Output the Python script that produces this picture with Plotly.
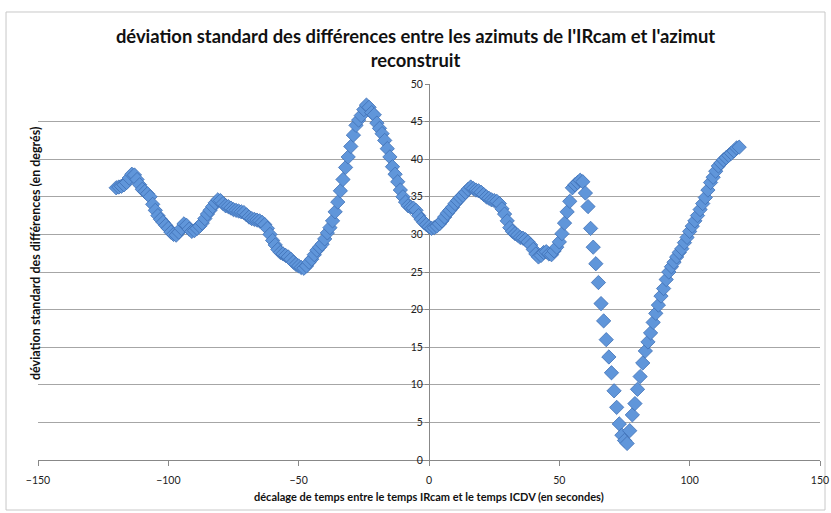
import plotly.graph_objects as go

# Time offset between IRcam and ICDV clocks (seconds), one sample per second
time_offsets = list(range(-120, 120))

# Standard deviation of the azimuth differences (degrees) for each offset
std_dev = [
    36.2, 36.3, 36.4, 36.6, 36.9, 37.5, 38.0, 37.9, 37.3, 36.6,
    36.0, 35.7, 35.4, 35.0, 34.0, 33.2, 32.5, 32.0, 31.6, 31.2,
    30.8, 30.3, 30.0, 29.9, 30.3, 30.8, 31.4, 31.2, 30.7, 30.4,
    30.5, 30.8, 31.1, 31.5, 32.1, 32.7, 33.2, 33.7, 34.2, 34.6,
    34.5, 34.1, 33.8, 33.7, 33.5, 33.3, 33.2, 33.1, 33.0, 32.9,
    32.6, 32.3, 32.1, 32.0, 31.9, 31.8, 31.6, 31.3, 30.8, 30.0,
    29.2, 28.6, 28.0, 27.6, 27.4, 27.2, 27.0, 26.7, 26.3, 26.0,
    25.8, 25.6, 25.5, 25.8, 26.3, 26.7, 27.3, 27.9, 28.3, 28.7,
    29.4, 30.2, 30.9, 31.8, 33.0, 34.3, 35.8, 37.3, 38.9, 40.3,
    41.7, 43.2, 44.5, 45.2, 45.8, 46.6, 47.2, 46.9, 46.2, 45.9,
    44.8, 44.1, 43.4, 42.5, 41.4, 40.3, 39.0, 38.0, 37.0, 35.9,
    35.0, 34.3, 33.8, 33.6, 33.5, 33.2, 32.5, 32.0, 31.6, 31.3,
    31.0, 30.8, 30.9, 31.1, 31.4, 31.8, 32.3, 32.8, 33.2, 33.6,
    34.1, 34.5, 34.9, 35.2, 35.6, 36.0, 36.3, 36.1, 35.9, 35.8,
    35.6, 35.3, 35.0, 34.8, 34.6, 34.5, 34.4, 34.1, 33.4, 32.7,
    31.8, 30.9, 30.4, 30.1, 29.9, 29.6, 29.5, 29.3, 29.0, 28.6,
    28.0, 27.4, 27.0, 27.2, 27.6, 27.7, 27.4, 27.3, 27.8, 28.3,
    29.0, 30.1, 31.5, 33.0, 34.4, 36.2, 36.6, 36.9, 37.2, 37.0,
    35.5, 33.7, 30.8, 28.3, 26.1, 23.6, 20.8, 18.5, 16.0, 13.7,
    11.6, 9.2, 7.0, 4.8, 3.3, 2.6, 2.2, 3.9, 6.0, 7.5,
    9.4, 11.1, 12.9, 14.5, 15.7, 16.9, 18.3, 19.5, 20.6, 21.8,
    22.8, 24.0, 25.0, 25.7, 26.3, 27.0, 27.6, 28.1, 28.9, 29.6,
    30.4, 31.1, 31.8, 32.5, 33.3, 34.1, 34.9, 35.9, 36.9, 37.6,
    38.4, 39.1, 39.5, 39.9, 40.2, 40.5, 40.8, 41.1, 41.5, 41.6,
]

x_ticks = [-150, -100, -50, 0, 50, 100, 150]
y_ticks = [0, 5, 10, 15, 20, 25, 30, 35, 40, 45, 50]

title_text = ("déviation standard des différences entre les azimuts de l'IRcam et l'azimut"
              "<br>reconstruit")
x_title = "décalage de temps entre le temps IRcam et le temps ICDV (en secondes)"
y_title = "déviation standard des différences (en degrés)"

FONT = "Lato"

fig = go.Figure()
fig.add_trace(go.Scatter(
    x=time_offsets,
    y=std_dev,
    mode="markers",
    marker=dict(symbol="diamond", size=11, color="#6096da",
                line=dict(color="#3f70b5", width=0.8)),
    showlegend=False,
))

fig.update_layout(
    width=831,
    height=513,
    margin=dict(l=38, r=11, t=84, b=53, autoexpand=False),
    paper_bgcolor="white",
    plot_bgcolor="white",
    font=dict(family=FONT, color="#222222"),
    title=dict(
        text=title_text,
        x=0.5, xref="container", xanchor="center",
        y=0.916, yref="container", yanchor="top",
        font=dict(family=FONT, size=18.4, color="#111111", weight="bold"),
    ),
    xaxis=dict(
        range=[-150, 150],
        tickvals=x_ticks,
        automargin=False,
        ticks="outside", ticklen=5, tickcolor="#888888",
        ticklabelstandoff=5,
        showline=True, linecolor="#888888", linewidth=1,
        showgrid=False, zeroline=True, zerolinecolor="#888888", zerolinewidth=1,
        tickfont=dict(family=FONT, size=10.5, color="#222222"),
    ),
    yaxis=dict(
        range=[0, 50],
        tickvals=y_ticks,
        automargin=False,
        anchor="free", position=0.5,
        ticks="outside", ticklen=4, tickcolor="#888888",
        showline=False,
        showgrid=True, gridcolor="#a6a6a6", gridwidth=1,
        zeroline=False,
        tickfont=dict(family=FONT, size=10.5, color="#222222"),
    ),
    shapes=[
        dict(type="rect", xref="paper", yref="paper",
             x0=-0.0409, x1=1.0064, y0=-0.133, y1=1.1915,
             line=dict(color="#c8c8c8", width=1), fillcolor="rgba(0,0,0,0)",
             layer="below"),
    ],
    annotations=[
        dict(text=x_title, xref="paper", yref="paper", x=0.5, y=-0.098,
             xanchor="center", yanchor="middle", showarrow=False,
             font=dict(family=FONT, size=11, color="#111111", weight="bold")),
        dict(text=y_title, xref="paper", yref="paper", x=-0.004, y=0.55,
             xanchor="center", yanchor="middle", showarrow=False, textangle=-90,
             font=dict(family=FONT, size=12.5, color="#111111", weight="bold")),
    ],
)

fig.write_html("out.html")
